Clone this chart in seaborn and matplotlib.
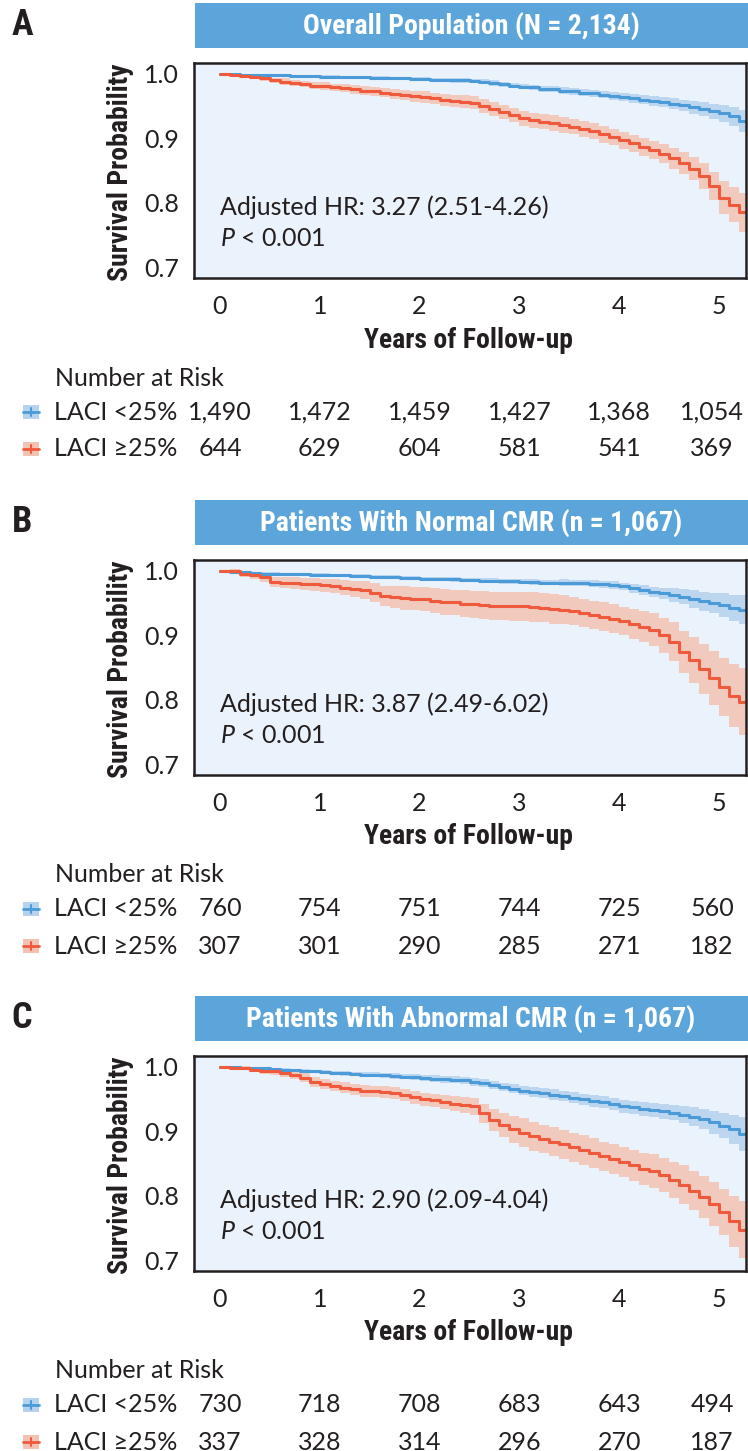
import numpy as np
import pandas as pd
import matplotlib
matplotlib.use("Agg")
import matplotlib.pyplot as plt
import seaborn as sns
from matplotlib import font_manager as fm
from matplotlib.patches import Rectangle
from matplotlib.lines import Line2D
from matplotlib import transforms

# ---------------- data ----------------
times = [0.0, 0.1, 0.2, 0.3, 0.4, 0.5, 0.6, 0.7, 0.8, 0.9,
         1.0, 1.1, 1.2, 1.3, 1.4, 1.5, 1.6, 1.7, 1.8, 1.9,
         2.0, 2.1, 2.2, 2.3, 2.4, 2.5, 2.6, 2.7, 2.8, 2.9,
         3.0, 3.1, 3.2, 3.3, 3.4, 3.5, 3.6, 3.7, 3.8, 3.9,
         4.0, 4.1, 4.2, 4.3, 4.4, 4.5, 4.6, 4.7, 4.8, 4.9,
         5.0, 5.1, 5.2, 5.27]

A_low_surv = [1.000, 1.000, .999, .999, .998, .998, .998, .997, .997, .997,
              .996, .996, .995, .995, .995, .994, .994, .993, .993, .992,
              .992, .991, .991, .990, .990, .989, .988, .986, .984, .982,
              .980, .979, .977, .976, .974, .973, .971, .970, .968, .966,
              .964, .962, .960, .958, .956, .954, .951, .948, .945, .942,
              .939, .934, .927, .927]
A_low_hw = [0, .0005, .001, .001, .001, .0015, .0015, .002, .002, .002,
            .002, .002, .0025, .0025, .0025, .0025, .003, .003, .003, .003,
            .003, .003, .003, .0035, .0035, .0035, .0035, .004, .004, .004,
            .004, .0045, .0045, .0045, .005, .005, .005, .0055, .0055, .006,
            .006, .0065, .007, .0072, .0076, .008, .009, .010, .011, .012,
            .013, .015, .017, .017]
A_high_surv = [1.000, .999, .997, .995, .993, .990, .988, .986, .984, .982,
               .981, .979, .978, .976, .974, .973, .971, .969, .967, .965,
               .964, .962, .960, .958, .957, .955, .950, .946, .941, .936,
               .931, .928, .926, .924, .921, .918, .915, .911, .906, .902,
               .897, .892, .887, .882, .876, .869, .862, .853, .841, .826,
               .808, .797, .785, .785]
A_high_hw = [0, .002, .003, .003, .004, .004, .005, .005, .005, .006,
             .006, .006, .0065, .0065, .007, .007, .0075, .008, .008, .0085,
             .009, .009, .0095, .0095, .010, .010, .0105, .011, .011, .0112,
             .0115, .0115, .012, .012, .012, .012, .0122, .0125, .0127, .013,
             .013, .0135, .014, .0145, .015, .016, .017, .018, .020, .022,
             .025, .027, .030, .030]

B_low_surv = [1.000, .999, .998, .997, .996, .996, .995, .995, .995, .994,
              .994, .993, .993, .992, .992, .991, .991, .990, .989, .989,
              .988, .988, .987, .987, .986, .986, .985, .985, .984, .984,
              .983, .983, .982, .982, .982, .981, .981, .980, .979, .978,
              .976, .973, .970, .967, .965, .962, .960, .956, .953, .950,
              .947, .943, .940, .940]
B_low_hw = [0, .001, .001, .0015, .002, .002, .002, .0025, .0025, .003,
            .003, .003, .003, .003, .003, .003, .003, .003, .003, .003,
            .003, .0032, .0033, .0034, .0035, .0036, .0037, .0038, .0039, .004,
            .004, .0042, .0044, .0046, .0048, .005, .005, .0053, .0055, .0058,
            .006, .007, .0075, .008, .009, .011, .012, .014, .015, .016,
            .018, .020, .022, .022]
B_high_surv = [1.000, 1.000, .995, .993, .990, .983, .982, .981, .980, .979,
               .978, .976, .974, .972, .970, .966, .961, .959, .958, .957,
               .956, .954, .952, .951, .949, .948, .947, .946, .946, .945,
               .945, .944, .943, .941, .940, .938, .935, .932, .929, .926,
               .922, .918, .913, .909, .900, .890, .874, .862, .848, .834,
               .819, .806, .797, .797]
B_high_hw = [0, .003, .005, .006, .007, .008, .0085, .009, .0095, .010,
             .010, .011, .012, .013, .014, .015, .016, .017, .018, .018,
             .019, .019, .020, .020, .021, .021, .022, .022, .022, .023,
             .023, .023, .023, .023, .022, .022, .022, .022, .022, .022,
             .022, .023, .024, .025, .027, .030, .033, .036, .039, .042,
             .045, .049, .052, .052]

C_low_surv = [1.000, 1.000, .999, .999, .998, .997, .996, .995, .994, .993,
              .992, .991, .990, .989, .988, .988, .987, .986, .985, .984,
              .983, .982, .981, .980, .979, .977, .975, .972, .969, .966,
              .963, .961, .959, .957, .955, .952, .950, .947, .945, .942,
              .939, .937, .935, .933, .931, .929, .926, .923, .919, .914,
              .909, .903, .896, .896]
C_low_hw = [0, .0005, .001, .001, .0015, .002, .002, .0025, .0025, .003,
            .003, .003, .0035, .0035, .004, .004, .004, .0045, .0045, .005,
            .005, .0052, .0054, .0056, .0058, .006, .0062, .0065, .0067, .007,
            .007, .0073, .0076, .008, .008, .0083, .0086, .009, .0093, .0096,
            .010, .0103, .0106, .011, .0115, .012, .013, .014, .016, .018,
            .020, .023, .026, .026]
C_high_surv = [1.000, .999, .998, .996, .994, .993, .990, .987, .983, .977,
               .973, .970, .968, .965, .963, .962, .961, .959, .956, .953,
               .950, .948, .945, .943, .941, .939, .928, .918, .910, .903,
               .898, .892, .888, .884, .880, .875, .871, .866, .861, .857,
               .852, .847, .842, .838, .832, .825, .817, .808, .798, .787,
               .775, .760, .747, .747]
C_high_hw = [0, .002, .003, .004, .0045, .005, .0055, .006, .007, .0075,
             .008, .008, .0085, .0085, .009, .009, .009, .0095, .0095, .010,
             .010, .0105, .011, .012, .0125, .013, .015, .017, .019, .021,
             .022, .022, .022, .0225, .0225, .023, .023, .023, .023, .023,
             .023, .024, .025, .026, .027, .028, .030, .031, .033, .034,
             .036, .040, .044, .044]

panel_letters = ["A", "B", "C"]
panel_titles = ["Overall Population (N = 2,134)",
                "Patients With Normal CMR (n = 1,067)",
                "Patients With Abnormal CMR (n = 1,067)"]
hr_texts = ["Adjusted HR: 3.27 (2.51-4.26)",
            "Adjusted HR: 3.87 (2.49-6.02)",
            "Adjusted HR: 2.90 (2.09-4.04)"]
group_labels = ["LACI <25%", "LACI \u226525%"]
risk_times = [0, 1, 2, 3, 4, 5]
A_risk_low = ["1,490", "1,472", "1,459", "1,427", "1,368", "1,054"]
A_risk_high = ["644", "629", "604", "581", "541", "369"]
B_risk_low = ["760", "754", "751", "744", "725", "560"]
B_risk_high = ["307", "301", "290", "285", "271", "182"]
C_risk_low = ["730", "718", "708", "683", "643", "494"]
C_risk_high = ["337", "328", "314", "296", "270", "187"]
y_ticks = [0.7, 0.8, 0.9, 1.0]

for arr in [A_low_surv, A_low_hw, A_high_surv, A_high_hw, B_low_surv, B_low_hw,
            B_high_surv, B_high_hw, C_low_surv, C_low_hw, C_high_surv, C_high_hw]:
    assert len(arr) == len(times), (len(arr), len(times))

# ---------------- style ----------------
sns.set_style("white")
names = {f.name for f in fm.fontManager.ttflist}


def pick(cands, default="DejaVu Sans"):
    for c in cands:
        if c in names:
            return c
    return default


COND = pick(["Roboto Condensed", "Liberation Sans Narrow", "Open Sans Condensed",
             "DejaVu Sans"])
REG = pick(["Lato", "Roboto", "Open Sans"])
plt.rcParams["font.family"] = [REG, "DejaVu Sans"]
plt.rcParams["mathtext.fontset"] = "custom"
plt.rcParams["mathtext.it"] = f"{REG}:italic"
plt.rcParams["mathtext.rm"] = REG

BAR = "#5ba5da"
BG = "#eaf2fb"
BLUE = "#4a9bd8"
BLUE_BAND = "#b5d2ee"
RED = "#f05a3c"
RED_BAND = "#f3c2b2"
DARK = "#231f20"

W, H = 748, 1451
fig = plt.figure(figsize=(W / 100, H / 100), dpi=100)


def fx(p):
    return p / W


def fy(p):
    return 1 - p / H


cond_kw = dict(family=[COND, "DejaVu Sans"], fontstretch="condensed")
REG_FS = 18

panels = [
    (A_low_surv, A_low_hw, A_high_surv, A_high_hw, A_risk_low, A_risk_high),
    (B_low_surv, B_low_hw, B_high_surv, B_high_hw, B_risk_low, B_risk_high),
    (C_low_surv, C_low_hw, C_high_surv, C_high_hw, C_risk_low, C_risk_high),
]
offsets = [0, 497, 993]

for i, (ls, lh, hs, hh, rl, rh) in enumerate(panels):
    o = offsets[i]
    # title bar
    fig.add_artist(Rectangle((fx(195), fy(48 + o)), fx(748) - fx(195), 45 / H,
                             transform=fig.transFigure, color=BAR, lw=0))
    fig.text(fx(471), fy(26 + o), panel_titles[i], ha="center", va="center",
             color="white", fontsize=20, weight="bold", **cond_kw)
    fig.text(fx(22), fy(25 + o), panel_letters[i], ha="center", va="center",
             color=DARK, fontsize=26, weight="bold", **cond_kw)

    ax = fig.add_axes([fx(194), fy(278 + o), (746 - 194) / W, (278 - 63) / H])
    ax.set_facecolor(BG)

    df = pd.DataFrame({
        "Years": times * 2,
        "Survival": ls + hs,
        "hw": lh + hh,
        "Group": [group_labels[0]] * len(times) + [group_labels[1]] * len(times),
    })
    df["lo"] = df["Survival"] - df["hw"]
    df["hi"] = df["Survival"] + df["hw"]
    for g, band in zip(group_labels, [BLUE_BAND, RED_BAND]):
        d = df[df["Group"] == g]
        ax.fill_between(d["Years"], d["lo"], d["hi"], step="post", color=band,
                        alpha=0.85, lw=0)
    sns.lineplot(data=df, x="Years", y="Survival", hue="Group",
                 palette=[BLUE, RED], hue_order=group_labels, estimator=None,
                 sort=False, drawstyle="steps-post", lw=2.2, ax=ax, legend=False)

    ax.set_xlim(-0.26, 5.27)
    ax.set_ylim(0.683, 1.017)
    ax.set_xticks(risk_times)
    ax.set_xticklabels([str(t) for t in risk_times])
    ax.set_yticks(y_ticks)
    ax.set_yticklabels([f"{v:.1f}" for v in y_ticks])
    ax.tick_params(axis="both", direction="out", length=7, width=2,
                   color=DARK, labelsize=REG_FS, labelcolor=DARK)
    ax.tick_params(axis="x", pad=5)
    ax.tick_params(axis="y", pad=4)
    for sp in ax.spines.values():
        sp.set_visible(True)
        sp.set_color(DARK)
        sp.set_linewidth(1.8)
    ax.set_xlabel("")
    ax.set_ylabel("")

    ax.text(0.0, 0.793, hr_texts[i], fontsize=REG_FS, color=DARK, ha="left",
            va="center")
    ax.text(0.0, 0.745, "$P$ < 0.001", fontsize=REG_FS, color=DARK, ha="left",
            va="center")

    fig.text(fx(120), fy(172 + o), "Survival Probability", rotation=90,
             ha="center", va="center", fontsize=20, weight="bold", color=DARK, **cond_kw)
    fig.text(fx(468), fy(340 + o), "Years of Follow-up", ha="center", va="center",
             fontsize=20, weight="bold", color=DARK, **cond_kw)

    # number at risk
    fig.text(fx(55), fy(378 + o), "Number at Risk", ha="left", va="center",
             fontsize=REG_FS, color=DARK)
    blend = transforms.blended_transform_factory(ax.transData, fig.transFigure)
    last_col = transforms.offset_copy(blend, fig=fig, x=-7, units="dots")
    for row_y, lab, light, dark, vals in [
        (412 + o, group_labels[0], BLUE_BAND, BLUE, rl),
        (449 + o, group_labels[1], RED_BAND, RED, rh),
    ]:
        fig.add_artist(Rectangle((fx(23), fy(row_y + 7)), 16 / W, 14 / H,
                                 transform=fig.transFigure, color=light, lw=0))
        fig.add_artist(Line2D([fx(23), fx(39)], [fy(row_y), fy(row_y)],
                              transform=fig.transFigure, color=dark, lw=2))
        fig.add_artist(Line2D([fx(31), fx(31)], [fy(row_y - 4), fy(row_y + 4)],
                              transform=fig.transFigure, color=dark, lw=1.5))
        fig.text(fx(54), fy(row_y), lab, ha="left", va="center", fontsize=REG_FS,
                 color=DARK)
        for k, (t, v) in enumerate(zip(risk_times, vals)):
            tr = last_col if k == len(risk_times) - 1 else blend
            ax.text(t, fy(row_y), v, transform=tr, ha="center", va="center",
                    fontsize=REG_FS, color=DARK, clip_on=False)

fig.savefig("out.png", dpi=100, facecolor="white")
